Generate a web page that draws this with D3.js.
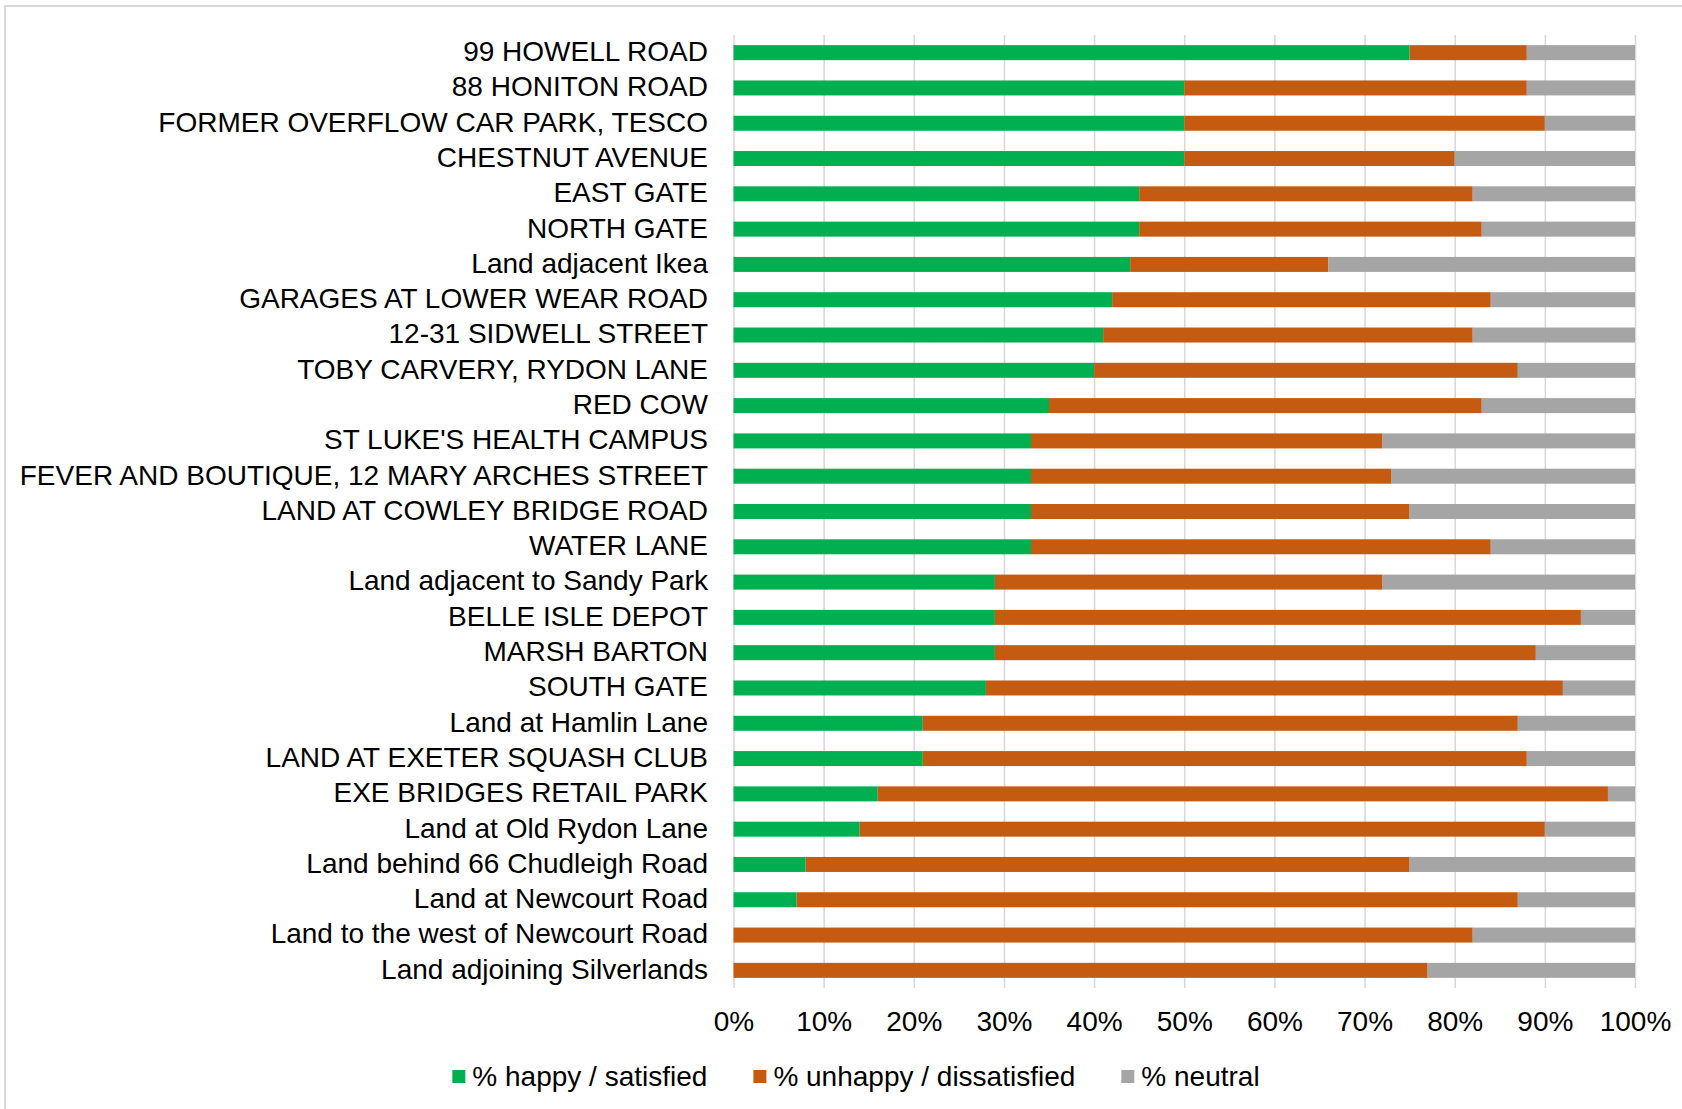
<!DOCTYPE html>
<html>
<head>
<meta charset="utf-8">
<script src="https://cdn.jsdelivr.net/npm/d3@7"></script>
<style>
  html, body { margin: 0; padding: 0; background: #fff; }
  svg text { font-family: "Liberation Sans", Arial, sans-serif; fill: #000; }
</style>
</head>
<body>
<div id="chart"></div>
<script>
// categories, top to bottom as in the chart
const sites = [
  '99 HOWELL ROAD',
  '88 HONITON ROAD',
  'FORMER OVERFLOW CAR PARK, TESCO',
  'CHESTNUT AVENUE',
  'EAST GATE',
  'NORTH GATE',
  'Land adjacent Ikea',
  'GARAGES AT LOWER WEAR ROAD',
  '12-31 SIDWELL STREET',
  'TOBY CARVERY, RYDON LANE',
  'RED COW',
  "ST LUKE'S HEALTH CAMPUS",
  'FEVER AND BOUTIQUE, 12 MARY ARCHES STREET',
  'LAND AT COWLEY BRIDGE ROAD',
  'WATER LANE',
  'Land adjacent to Sandy Park',
  'BELLE ISLE DEPOT',
  'MARSH BARTON',
  'SOUTH GATE',
  'Land at Hamlin Lane',
  'LAND AT EXETER SQUASH CLUB',
  'EXE BRIDGES RETAIL PARK',
  'Land at Old Rydon Lane',
  'Land behind 66 Chudleigh Road',
  'Land at Newcourt Road',
  'Land to the west of Newcourt Road',
  'Land adjoining Silverlands'
];

// % per site
const happy   = [75, 50, 50, 50, 45, 45, 44, 42, 41, 40, 35, 33, 33, 33, 33, 29, 29, 29, 28, 21, 21, 16, 14, 8, 7, 0, 0];
const unhappy = [13, 38, 40, 30, 37, 38, 22, 42, 41, 47, 48, 39, 40, 42, 51, 43, 65, 60, 64, 66, 67, 81, 76, 67, 80, 82, 77];
const neutral = [12, 12, 10, 20, 18, 17, 34, 16, 18, 13, 17, 28, 27, 25, 16, 28, 6, 11, 8, 13, 12, 3, 10, 25, 13, 18, 23];

const seriesNames = ['% happy / satisfied', '% unhappy / dissatisfied', '% neutral'];
const xTicks = [0, 10, 20, 30, 40, 50, 60, 70, 80, 90, 100];

const colors = ['#00b050', '#c55a11', '#a5a5a5'];
const gridColor = '#d9d9d9';

const width = 1682;
const height = 1109;
const plot = {left: 733.5, right: 1635, top: 35, bottom: 988};
const fontSize = 28;

const svg = d3.select('#chart').append('svg')
  .attr('width', width)
  .attr('height', height);

// chart frame (only top and left edges are visible in the picture)
svg.append('rect')
  .attr('x', 5).attr('y', 6)
  .attr('width', width + 20).attr('height', height + 20)
  .attr('fill', 'none')
  .attr('stroke', gridColor)
  .attr('stroke-width', 2);

const x = d3.scaleLinear()
  .domain([0, 100])
  .range([plot.left, plot.right]);

const y = d3.scaleBand()
  .domain(sites)
  .range([plot.top, plot.bottom])
  .paddingInner(0.575)
  .paddingOuter(0.2875);

// stacked data
const rows = sites.map((s, i) => ({site: s, happy: happy[i], unhappy: unhappy[i], neutral: neutral[i]}));
const stack = d3.stack().keys(['happy', 'unhappy', 'neutral']);
const layers = stack(rows);

// gridlines
svg.append('g')
  .attr('class', 'grid')
  .attr('transform', `translate(0,${plot.bottom})`)
  .call(d3.axisBottom(x).tickValues(xTicks).tickSize(-(plot.bottom - plot.top)).tickFormat(''))
  .call(g => g.select('.domain').remove())
  .call(g => g.selectAll('line').attr('stroke', gridColor).attr('stroke-width', 1.6));

// bars
svg.append('g')
  .selectAll('g')
  .data(layers)
  .join('g')
  .attr('fill', (d, i) => colors[i])
  .selectAll('rect')
  .data(d => d)
  .join('rect')
  .attr('x', d => x(d[0]))
  .attr('y', d => y(d.data.site))
  .attr('width', d => x(d[1]) - x(d[0]))
  .attr('height', y.bandwidth());

// category labels
svg.append('g')
  .attr('class', 'y-axis')
  .attr('transform', `translate(${plot.left},0)`)
  .call(d3.axisLeft(y).tickSize(0).tickPadding(25.5))
  .call(g => g.select('.domain').remove())
  .call(g => g.selectAll('text')
    .attr('font-size', fontSize)
    .attr('dy', '0.3em'));

// x axis tick labels
svg.append('g')
  .attr('class', 'x-axis')
  .attr('transform', `translate(0,${plot.bottom})`)
  .call(d3.axisBottom(x).tickValues(xTicks).tickSize(0).tickPadding(0).tickFormat(d => d + '%'))
  .call(g => g.select('.domain').remove())
  .call(g => g.selectAll('text')
    .attr('font-size', fontSize)
    .attr('y', 42.5)
    .attr('dy', 0));

// legend
const legend = svg.append('g').attr('class', 'legend');
const sq = 13;
const gapText = 7;
const gapItem = 46;
const legendBaseline = 1086;

const items = legend.selectAll('g')
  .data(seriesNames)
  .join('g');

items.append('rect')
  .attr('width', sq).attr('height', sq)
  .attr('y', 1070)
  .attr('fill', (d, i) => colors[i]);

items.append('text')
  .attr('font-size', fontSize)
  .attr('y', legendBaseline)
  .text(d => d);

// place legend items one after another, centered
let cursor = 0;
const offsets = [];
items.each(function () {
  const w = d3.select(this).select('text').node().getComputedTextLength();
  offsets.push(cursor);
  cursor += sq + gapText + w + gapItem;
});
const total = cursor - gapItem;
const legendStart = 856 - total / 2;
items.each(function (d, i) {
  const g = d3.select(this);
  g.select('rect').attr('x', legendStart + offsets[i]);
  g.select('text').attr('x', legendStart + offsets[i] + sq + gapText);
});
</script>
</body>
</html>
